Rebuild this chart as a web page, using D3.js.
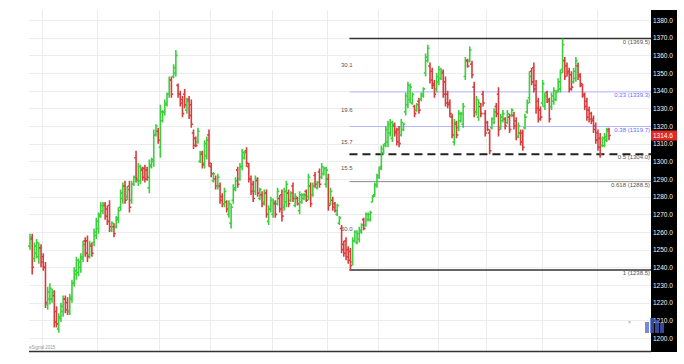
<!DOCTYPE html>
<html>
<head>
<meta charset="UTF-8">
<title>Price chart</title>
<script src="https://cdn.jsdelivr.net/npm/d3@7/dist/d3.min.js"></script>
<style type="text/css">
body { margin: 0; background: #fff; }
svg { display: block; font-family: "Liberation Sans", Arial, sans-serif; }
.grid line { stroke: #ececec; stroke-width: 1; }
.axis text { fill: #f2f2f2; font-size: 6.5px; }
.fib text { font-size: 6px; }
</style>
</head>
<body>
<div class="scalingContainer"></div>
<script>
// daily bars (O / H / L / C)
var openP = [
 1252,1256,1245,1248,1246,1251,1246,1240,1219,1222,
 1222,1224,1215,1205,1211,1215,1222,1220,1215,1222,
 1231,1236,1237,1240,1245,1255,1255,1247,1252,1254,
 1258,1262,1270,1272,1275,1273,1275,1261,1263,1263,
 1267,1274,1279,1286,1280,1286,1278,1287,1302,1289,
 1289,1295,1296,1295,1285,1297,1300,1315,1317,1308,
 1323,1328,1332,1338,1346,1348,1350,1343,1338,1335,
 1338,1329,1335,1332,1316,1313,1311,1300,1304,1299,
 1303,1315,1297,1289,1290,1286,1286,1280,1276,1277,
 1270,1265,1278,1284,1295,1290,1297,1302,1306,1297,
 1290,1287,1283,1289,1279,1281,1277,1282,1266,1273,
 1270,1276,1276,1279,1281,1274,1277,1282,1278,1286,
 1275,1279,1272,1277,1279,1283,1280,1286,1281,1292,
 1285,1294,1291,1293,1287,1290,1276,1278,1276,1270,
 1265,1262,1253,1255,1250,1249,1243,1255,1254,1256,
 1260,1267,1264,1267,1267,1277,1281,1286,1291,1297,
 1305,1310,1311,1316,1313,1320,1317,1318,1315,1318,
 1328,1332,1335,1333,1331,1329,1334,1335,1337,1350,
 1357,1354,1351,1344,1341,1345,1347,1350,1345,1338,
 1333,1325,1311,1321,1319,1323,1321,1348,1357,1357,
 1355,1342,1328,1325,1331,1338,1327,1322,1316,1319,
 1322,1331,1338,1319,1323,1324,1322,1325,1326,1326,
 1323,1314,1316,1316,1319,1328,1336,1351,1353,1343,
 1334,1329,1333,1331,1339,1334,1331,1334,1335,1340,
 1341,1352,1357,1354,1351,1349,1345,1347,1354,1349,
 1343,1337,1334,1329,1327,1324,1320,1316,1313,1309,
 1309,1312,1318
];
var highP = [
 1259,1259,1254,1256,1254,1253,1248,1243,1229,1231,
 1228,1227,1218,1214,1220,1224,1224,1223,1225,1233,
 1240,1246,1245,1248,1255,1257,1258,1255,1254,1262,
 1268,1271,1277,1277,1277,1275,1278,1266,1265,1269,
 1274,1284,1288,1289,1286,1289,1289,1292,1306,1299,
 1298,1297,1298,1297,1301,1302,1318,1321,1319,1332,
 1329,1335,1339,1348,1348,1355,1363,1344,1340,1337,
 1341,1336,1337,1335,1318,1314,1319,1306,1306,1312,
 1314,1318,1299,1294,1292,1293,1288,1282,1285,1278,
 1278,1276,1287,1291,1297,1299,1307,1306,1308,1299,
 1292,1289,1292,1291,1285,1283,1284,1284,1275,1280,
 1279,1278,1285,1281,1284,1285,1289,1284,1283,1288,
 1282,1280,1283,1282,1282,1284,1293,1288,1288,1294,
 1289,1296,1299,1297,1297,1293,1285,1280,1277,1276,
 1269,1264,1255,1257,1252,1251,1257,1261,1261,1263,
 1265,1268,1271,1271,1272,1281,1288,1293,1297,1309,
 1310,1320,1323,1324,1323,1322,1319,1320,1324,1322,
 1339,1345,1344,1339,1332,1333,1336,1339,1342,1361,
 1366,1356,1353,1346,1350,1354,1353,1352,1348,1340,
 1335,1327,1324,1323,1329,1328,1333,1359,1358,1365,
 1357,1345,1337,1335,1333,1340,1329,1323,1318,1325,
 1330,1333,1342,1327,1329,1325,1329,1327,1330,1328,
 1325,1322,1318,1318,1327,1335,1351,1353,1356,1346,
 1336,1331,1346,1339,1340,1336,1339,1342,1340,1347,
 1352,1369.5,1359,1356,1353,1351,1353,1359,1356,1350,
 1344,1339,1336,1331,1328,1326,1322,1318,1316,1314,
 1316,1319,1319
];
var lowP = [
 1250,1236,1243,1245,1242,1240,1238,1217,1216,1219,
 1220,1206,1206,1203,1209,1212,1214,1213,1213,1220,
 1229,1233,1235,1237,1243,1246,1243,1245,1246,1252,
 1256,1259,1268,1270,1267,1264,1260,1260,1257,1262,
 1265,1272,1276,1276,1278,1271,1276,1286,1288,1286,
 1287,1289,1288,1289,1282,1296,1297,1314,1310,1302,
 1322,1326,1331,1336,1336,1347,1348,1336,1331,1325,
 1330,1327,1324,1319,1307,1308,1310,1299,1296,1296,
 1301,1297,1291,1288,1284,1284,1276,1274,1274,1271,
 1268,1262,1276,1283,1285,1289,1295,1301,1297,1288,
 1281,1277,1281,1280,1278,1274,1275,1268,1264,1271,
 1268,1268,1275,1271,1266,1272,1274,1274,1277,1277,
 1274,1275,1270,1276,1278,1277,1278,1274,1280,1285,
 1284,1285,1290,1292,1285,1272,1275,1272,1271,1269,
 1264,1248,1246,1244,1242,1238.5,1241,1254,1253,1254,
 1259,1261,1263,1266,1266,1277,1280,1285,1290,1295,
 1304,1308,1308,1314,1311,1314,1309,1308,1314,1317,
 1326,1330,1333,1332,1325,1328,1327,1334,1336,1348,
 1356,1344,1341,1336,1339,1343,1346,1336,1331,1330,
 1325,1313,1309,1313,1317,1322,1319,1346,1353,1356,
 1347,1325,1326,1323,1325,1331,1314,1317,1304,1318,
 1321,1325,1314,1318,1322,1318,1321,1316,1325,1318,
 1312,1313,1309,1306,1318,1327,1333,1343,1339,1327,
 1322,1323,1331,1329,1333,1322,1329,1332,1334,1339,
 1339,1350,1346,1348,1339,1340,1344,1345,1346,1342,
 1336,1329,1323,1322,1321,1316,1310,1306,1302,1308,
 1308,1311,1312
];
var closeP = [
 1257,1240,1252,1254,1251,1243,1240,1220,1226,1228,
 1226,1209,1208,1212,1218,1222,1216,1215,1223,1231,
 1238,1244,1243,1246,1253,1248,1246,1253,1248,1260,
 1266,1269,1275,1276,1269,1266,1263,1265,1259,1268,
 1272,1282,1286,1278,1284,1274,1287,1291,1290,1297,
 1296,1291,1290,1291,1298,1301,1315,1320,1312,1328,
 1328,1333,1338,1346,1338,1353,1360,1338,1333,1327,
 1332,1334,1326,1321,1309,1309,1317,1305,1298,1310,
 1312,1299,1293,1293,1286,1291,1278,1276,1283,1273,
 1276,1274,1285,1289,1287,1297,1305,1305,1299,1290,
 1283,1279,1290,1282,1284,1276,1282,1270,1273,1278,
 1277,1270,1283,1273,1269,1283,1287,1276,1282,1279,
 1280,1276,1281,1281,1281,1278,1291,1276,1286,1287,
 1288,1287,1297,1296,1295,1275,1283,1274,1272,1275,
 1268,1250,1248,1246,1244,1241,1255,1260,1259,1261,
 1264,1262,1270,1270,1271,1280,1287,1292,1296,1307,
 1309,1318,1321,1322,1321,1316,1311,1310,1322,1321,
 1337,1343,1342,1338,1327,1332,1329,1338,1341,1359,
 1364,1346,1343,1338,1348,1352,1351,1338,1333,1332,
 1327,1315,1322,1315,1327,1327,1331,1357,1354,1363,
 1349,1328,1335,1333,1327,1333,1316,1318,1306,1324,
 1328,1327,1318,1325,1327,1320,1327,1318,1329,1320,
 1314,1320,1311,1308,1325,1333,1348,1345,1341,1330,
 1324,1325,1344,1337,1335,1324,1337,1340,1339,1345,
 1350,1366,1348,1350,1341,1342,1351,1357,1348,1344,
 1338,1331,1325,1324,1323,1318,1312,1308,1304,1313,
 1314,1317,1314.6
];

// bar index where each month starts (vertical grid)
var monthStarts = [6, 31, 59, 82, 110, 135, 158, 185, 207, 232, 257];
var priceTicks = d3.range(1200, 1381, 10);

// fibonacci retracement
var fibRatios = ["0", "0.23", "0.38", "0.5", "0.618", "1"];
var fibPrices = [1369.5, 1339.3, 1319.7, 1304.0, 1288.5, 1238.5];
var fibStart = 145;
var sideLabels = ["30.1", "19.6", "15.7", "15.5", "50.0"];
var sidePrices = [1354.5, 1329, 1311, 1296, 1261.5];
var lastPrice = 1314.6;

var W = 684, H = 364;
var plotL = 29, plotR = 651, plotT = 10, plotB = 351;

var svg = d3.select(".scalingContainer").append("svg")
    .attr("width", W).attr("height", H);

var n = closeP.length;
var x = d3.scaleLinear().domain([0, n - 1]).range([30, 609]);
var y = d3.scaleLinear().domain([1200, 1380]).range([338, 20]);

// grid
var grid = svg.append("g").attr("class", "grid");
grid.selectAll(".h").data(priceTicks).enter().append("line")
    .attr("x1", plotL).attr("x2", plotR)
    .attr("y1", function (d) { return Math.round(y(d)) + 0.5; })
    .attr("y2", function (d) { return Math.round(y(d)) + 0.5; });
grid.selectAll(".v").data(monthStarts).enter().append("line")
    .attr("x1", function (d) { return Math.round(x(d - 0.5)) + 0.5; })
    .attr("x2", function (d) { return Math.round(x(d - 0.5)) + 0.5; })
    .attr("y1", plotT).attr("y2", plotB);

// fib lines
var fib = svg.append("g").attr("class", "fib");
var fibStyle = [
    {c: "#333", w: 1.4, dash: null},
    {c: "#b4b8ff", w: 1, dash: null},
    {c: "#b4b8ff", w: 1, dash: null},
    {c: "#222", w: 2, dash: "8,5"},
    {c: "#888", w: 1, dash: null},
    {c: "#333", w: 1.4, dash: null}
];
fib.selectAll("line").data(fibPrices).enter().append("line")
    .attr("x1", x(fibStart) - 1).attr("x2", plotR)
    .attr("y1", function (d) { return y(d); })
    .attr("y2", function (d) { return y(d); })
    .attr("stroke", function (d, i) { return fibStyle[i].c; })
    .attr("stroke-width", function (d, i) { return fibStyle[i].w; })
    .attr("stroke-dasharray", function (d, i) { return fibStyle[i].dash; });
fib.selectAll("text.r").data(fibPrices).enter().append("text")
    .attr("x", plotR - 1)
    .attr("y", function (d) { return y(d) + 5; })
    .attr("text-anchor", "end")
    .attr("fill", function (d, i) { return (i === 1 || i === 2) ? "#6a6aff" : "#555"; })
    .text(function (d, i) { return fibRatios[i] + " (" + d.toFixed(1) + ")"; });
fib.selectAll("text.l").data(sidePrices).enter().append("text")
    .attr("x", 341)
    .attr("y", function (d) { return y(d) + 2; })
    .attr("fill", "#555")
    .text(function (d, i) { return sideLabels[i]; });

// ohlc bars
var bars = svg.append("g");
bars.selectAll("path").data(closeP).enter().append("path")
    .attr("d", function (c, i) {
        var xi = x(i);
        return "M" + xi + "," + y(highP[i]) + "V" + y(lowP[i]) +
            "M" + (xi - 1.8) + "," + y(openP[i]) + "H" + xi +
            "M" + xi + "," + y(c) + "H" + (xi + 1.8);
    })
    .attr("fill", "none")
    .attr("stroke", function (c, i) { return c >= openP[i] ? "#3ccf3c" : "#d83c3c"; })
    .attr("stroke-width", 1.6);

// frame bottom
svg.append("line").attr("x1", plotL).attr("x2", plotR)
    .attr("y1", plotB + 0.5).attr("y2", plotB + 0.5)
    .attr("stroke", "#333").attr("stroke-width", 1.5);

// price axis
svg.append("rect").attr("x", plotR).attr("y", plotT).attr("width", 26)
    .attr("height", plotB - plotT + 1).attr("fill", "#000");
var axis = svg.append("g").attr("class", "axis")
    .attr("transform", "translate(" + (plotR + 1) + ",0)")
    .call(d3.axisRight(y).tickValues(priceTicks).tickSize(0).tickPadding(1)
        .tickFormat(d3.format(".1f")));
axis.select(".domain").remove();

svg.append("rect").attr("x", plotR).attr("y", y(lastPrice) - 5)
    .attr("width", 26).attr("height", 10).attr("fill", "#e02828");
svg.append("text").attr("x", plotR + 2).attr("y", y(lastPrice) + 2.5)
    .attr("fill", "#fff").attr("font-size", "6.5px")
    .text(lastPrice.toFixed(1));

// logo marks
svg.append("text").attr("x", 29).attr("y", 349).attr("fill", "#999")
    .attr("font-size", "4.5px").text("eSignal 2015");
svg.append("text").attr("x", 628).attr("y", 324).attr("fill", "#7a8ad8")
    .attr("font-size", "5px").text("×");
var logo = svg.append("g").attr("fill", "#4a62c8").attr("opacity", 0.75);
[[645, 322, 4, 11], [650, 318, 4, 15], [655, 320, 4, 13], [660, 323, 4, 10]]
    .forEach(function (r) {
        logo.append("rect").attr("x", r[0]).attr("y", r[1])
            .attr("width", r[2]).attr("height", r[3]);
    });
</script>
</body>
</html>
